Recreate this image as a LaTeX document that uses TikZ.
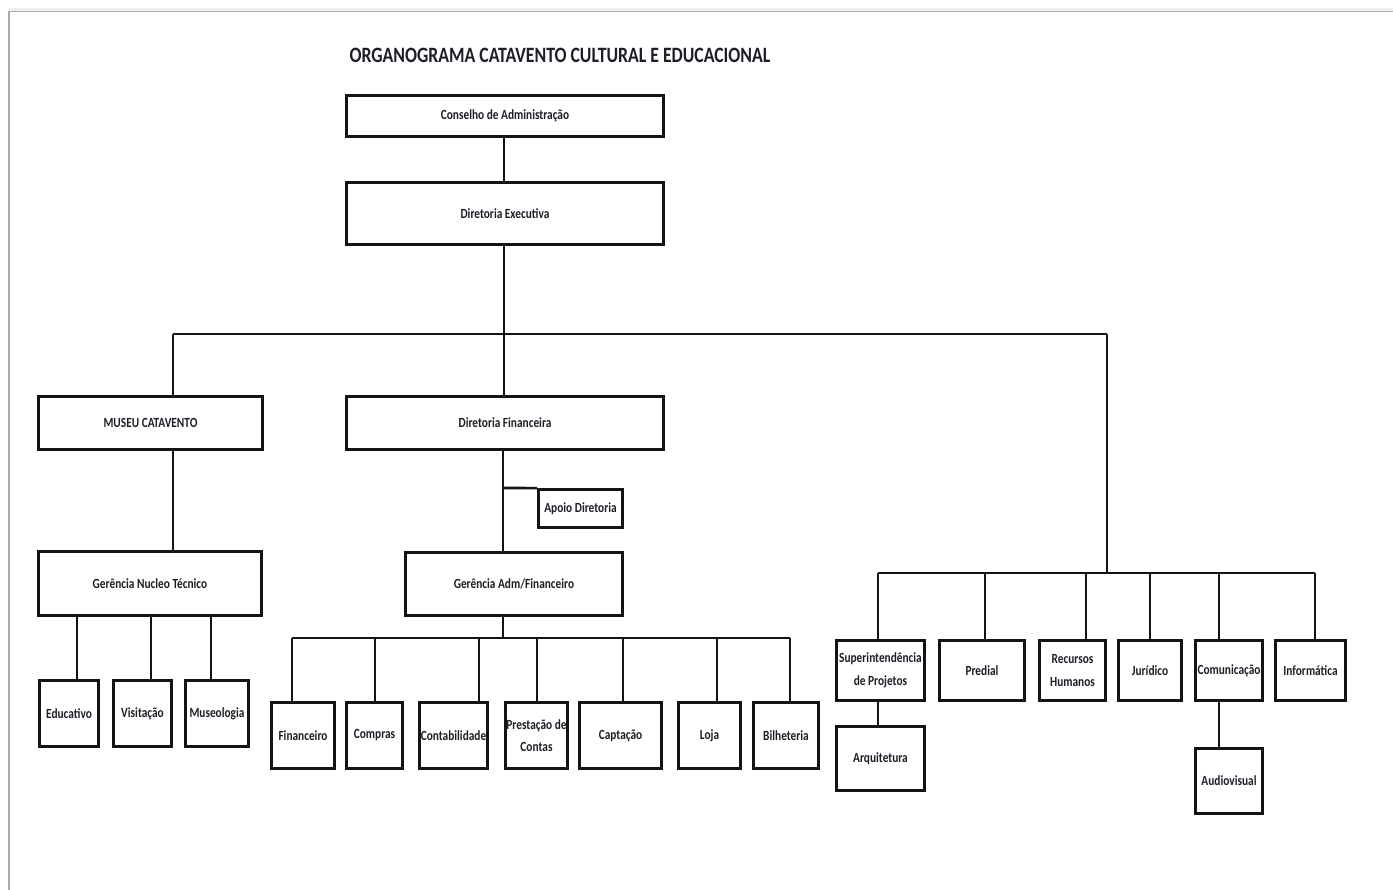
\documentclass[tikz,border=0pt]{standalone}
\usepackage{fontspec}
\setmainfont{Carlito}[FakeStretch=0.81]
\definecolor{ink}{RGB}{20,20,20}
\definecolor{txt}{RGB}{30,30,40}
\definecolor{pageedge}{RGB}{170,170,170}
\tikzset{
  box/.style={draw=ink, line width=2.7pt, inner sep=1pt, align=center,
    font=\fontsize{14}{22.5}\selectfont\bfseries, text=txt},
  conn/.style={draw=ink, line width=2.7pt},
}
\begin{document}
\begin{tikzpicture}[x=1pt,y=-1pt]
\useasboundingbox (0,0) rectangle (1393,890);
\fill[white] (0,0) rectangle (1393,890);
% page edge
\fill[black!6] (8,8.5) rectangle (1393,11);
\draw[pageedge, line width=1.8pt] (9,890) -- (9,11.5) -- (1393,11.5);
% title
\node[font=\fontsize{21.9}{24}\selectfont\bfseries, text=txt] (title) at (560,55) {ORGANOGRAMA CATAVENTO CULTURAL E EDUCACIONAL};
% top
\node[box, minimum width=317pt, minimum height=41pt] (cons) at (505,116) {Conselho de Administração};
\node[box, minimum width=317pt, minimum height=62pt] (dexe) at (505,213.5) {Diretoria Executiva};
% level 2
\node[box, minimum width=224pt, minimum height=53pt] (museu) at (150.5,423) {MUSEU CATAVENTO};
\node[box, minimum width=317pt, minimum height=53pt] (dfin) at (505,423) {Diretoria Financeira};
% museu branch
\node[box, minimum width=223pt, minimum height=64pt] (gnt) at (150,583.5) {Gerência Nucleo Técnico};
\node[box, minimum width=59pt, minimum height=66pt] (educ) at (69,713.5) {Educativo};
\node[box, minimum width=58pt, minimum height=66pt] (visit) at (142.5,713.5) {Visitação};
\node[box, minimum width=63pt, minimum height=66pt] (museo) at (217,713.5) {Museologia};
% financeira branch
\node[box, minimum width=84pt, minimum height=38pt] (apoio) at (580.5,508.5) {Apoio Diretoria};
\node[box, minimum width=217pt, minimum height=63pt] (gadm) at (514,584) {Gerência Adm/Financeiro};
\node[box, minimum width=63pt, minimum height=66pt] (fin) at (303,735.5) {Financeiro};
\node[box, minimum width=56pt, minimum height=66pt] (comp) at (374.5,735.5) {Compras};
\node[box, minimum width=68pt, minimum height=66pt] (cont) at (453.5,735.5) {Contabilidade};
\node[box, minimum width=62pt, minimum height=66pt] (prest) at (536.5,735.5) {Prestação de\\Contas};
\node[box, minimum width=82pt, minimum height=66pt] (capt) at (620.5,735.5) {Captação};
\node[box, minimum width=62pt, minimum height=66pt] (loja) at (709.5,735.5) {Loja};
\node[box, minimum width=65pt, minimum height=66pt] (bilh) at (786,735.5) {Bilheteria};
% right branch
\node[box, minimum width=88pt, minimum height=60pt] (sup) at (880.5,670.5) {Superintendência\\de Projetos};
\node[box, minimum width=85pt, minimum height=60pt] (pred) at (982,670.5) {Predial};
\node[box, minimum width=66pt, minimum height=60pt] (rh) at (1072.5,670.5) {Recursos\\Humanos};
\node[box, minimum width=63pt, minimum height=60pt] (jur) at (1150,670.5) {Jurídico};
\node[box, minimum width=67pt, minimum height=60pt] (comu) at (1229,670.5) {Comunicação};
\node[box, minimum width=70pt, minimum height=60pt] (info) at (1310.5,670.5) {Informática};
\node[box, minimum width=88pt, minimum height=64pt] (arq) at (880.5,758.5) {Arquitetura};
\node[box, minimum width=67pt, minimum height=65pt] (audio) at (1229,781) {Audiovisual};
% junction coordinates
\coordinate (jA) at (504,334);
\coordinate (jL) at (173,334);
\coordinate (jR) at (1107,334);
\coordinate (jR2) at (1107,573);
\coordinate (jRL) at (878,573);
\coordinate (jRR) at (1315,573);
\coordinate (jF) at (503,638);
\coordinate (jFL) at (292,638);
\coordinate (jFR) at (790,638);
\coordinate (jAp) at (503,488);
% connectors
\draw[conn] (cons.south -| jA) -- (dexe.north -| jA);
\draw[conn] (dexe.south -| jA) -- (jA);
\draw[conn] (jL) -- (jR);
\draw[conn] (jL) -- (museu.north -| jL);
\draw[conn] (jA) -- (dfin.north -| jA);
\draw[conn] (jR) -- (jR2);
\draw[conn] (museu.south -| jL) -- (gnt.north -| jL);
\draw[conn] (gnt.south -| 77,0) -- (educ.north -| 77,0);
\draw[conn] (gnt.south -| 151,0) -- (visit.north -| 151,0);
\draw[conn] (gnt.south -| 211,0) -- (museo.north -| 211,0);
\draw[conn] (dfin.south -| jF) -- (gadm.north -| jF);
\draw[conn] (jAp) -- (apoio.north west);
\draw[conn] (gadm.south -| jF) -- (jF);
\draw[conn] (jFL) -- (jFR);
\draw[conn] (jFL) -- (fin.north -| jFL);
\draw[conn] (375,638) -- (comp.north -| 375,0);
\draw[conn] (479,638) -- (cont.north -| 479,0);
\draw[conn] (537,638) -- (prest.north -| 537,0);
\draw[conn] (623,638) -- (capt.north -| 623,0);
\draw[conn] (717,638) -- (loja.north -| 717,0);
\draw[conn] (jFR) -- (bilh.north -| jFR);
\draw[conn] (jRL) -- (jRR);
\draw[conn] (jRL) -- (sup.north -| jRL);
\draw[conn] (985,573) -- (pred.north -| 985,0);
\draw[conn] (1086,573) -- (rh.north -| 1086,0);
\draw[conn] (1150,573) -- (jur.north);
\draw[conn] (1219,573) -- (comu.north -| 1219,0);
\draw[conn] (jRR) -- (info.north -| jRR);
\draw[conn] (sup.south -| jRL) -- (arq.north -| jRL);
\draw[conn] (comu.south -| 1219,0) -- (audio.north -| 1219,0);
\end{tikzpicture}
\end{document}
